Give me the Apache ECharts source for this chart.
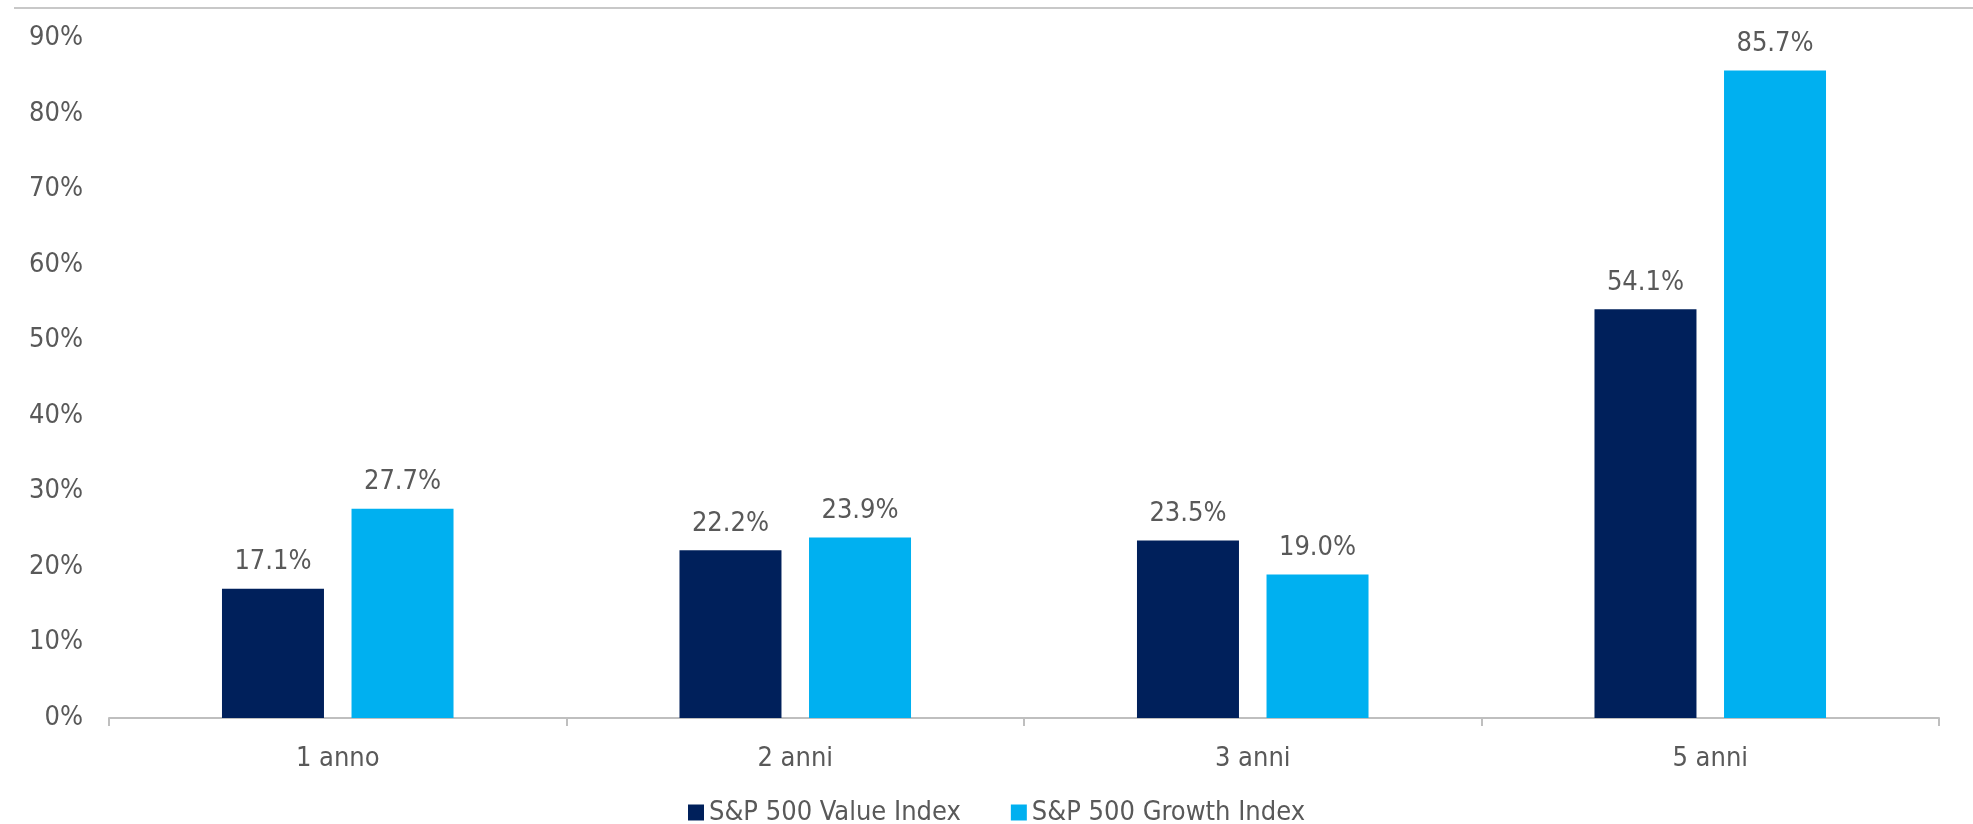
<!DOCTYPE html>
<html><head><meta charset="utf-8">
<script src="https://cdn.jsdelivr.net/npm/echarts@6/dist/echarts.min.js"></script>
<style>html,body{margin:0;padding:0;background:#fff}#c{width:1973px;height:824px}</style>
</head><body><div id="c"></div>
<script>
const categories = ['1 anno', '2 anni', '3 anni', '5 anni'];
const valueIndex = [17.1, 22.2, 23.5, 54.1];
const growthIndex = [27.7, 23.9, 19.0, 85.7];
const seriesNames = ['S&P 500 Value Index', 'S&P 500 Growth Index'];
const FONT = '"Liberation Sans Narrow", "DejaVu Sans Condensed", Roboto, sans-serif';
const chart = echarts.init(document.getElementById('c'));
const lbl = {show: true, position: 'top', distance: 13, color: '#595959', fontSize: 27, fontFamily: FONT,
  formatter: p => p.value.toFixed(1) + '%'};
chart.setOption({
  animation: false,
  textStyle: {fontFamily: FONT},
  grid: {left: 109, right: 34, top: 38, bottom: 106, containLabel: false},
  legend: {bottom: -7, left: 683, itemWidth: 16, itemHeight: 16, itemGap: 50, icon: 'rect',
    textStyle: {color: '#595959', fontSize: 27, fontFamily: FONT}, data: seriesNames},
  xAxis: {type: 'category', data: categories,
    axisLine: {lineStyle: {color: '#BFBFBF', width: 2}},
    axisTick: {show: true, length: 8, lineStyle: {color: '#BFBFBF', width: 2}},
    axisLabel: {color: '#595959', fontSize: 27, fontFamily: FONT, margin: 27}},
  yAxis: {type: 'value', min: 0, max: 90, interval: 10,
    axisLine: {show: false}, axisTick: {show: false}, splitLine: {show: false},
    axisLabel: {color: '#595959', fontSize: 27, fontFamily: FONT, margin: 26, formatter: v => v + '%'}},
  graphic: [{type: 'line', shape: {x1: 14, y1: 8, x2: 1973, y2: 8}, style: {stroke: '#C8C8C8', lineWidth: 2}}],
  series: [
    {name: seriesNames[0], type: 'bar', data: valueIndex, barWidth: 102, barGap: '27%',
      itemStyle: {color: '#00205B'}, label: lbl},
    {name: seriesNames[1], type: 'bar', data: growthIndex, barWidth: 102,
      itemStyle: {color: '#00B0F0'}, label: lbl}
  ]
});
</script></body></html>
